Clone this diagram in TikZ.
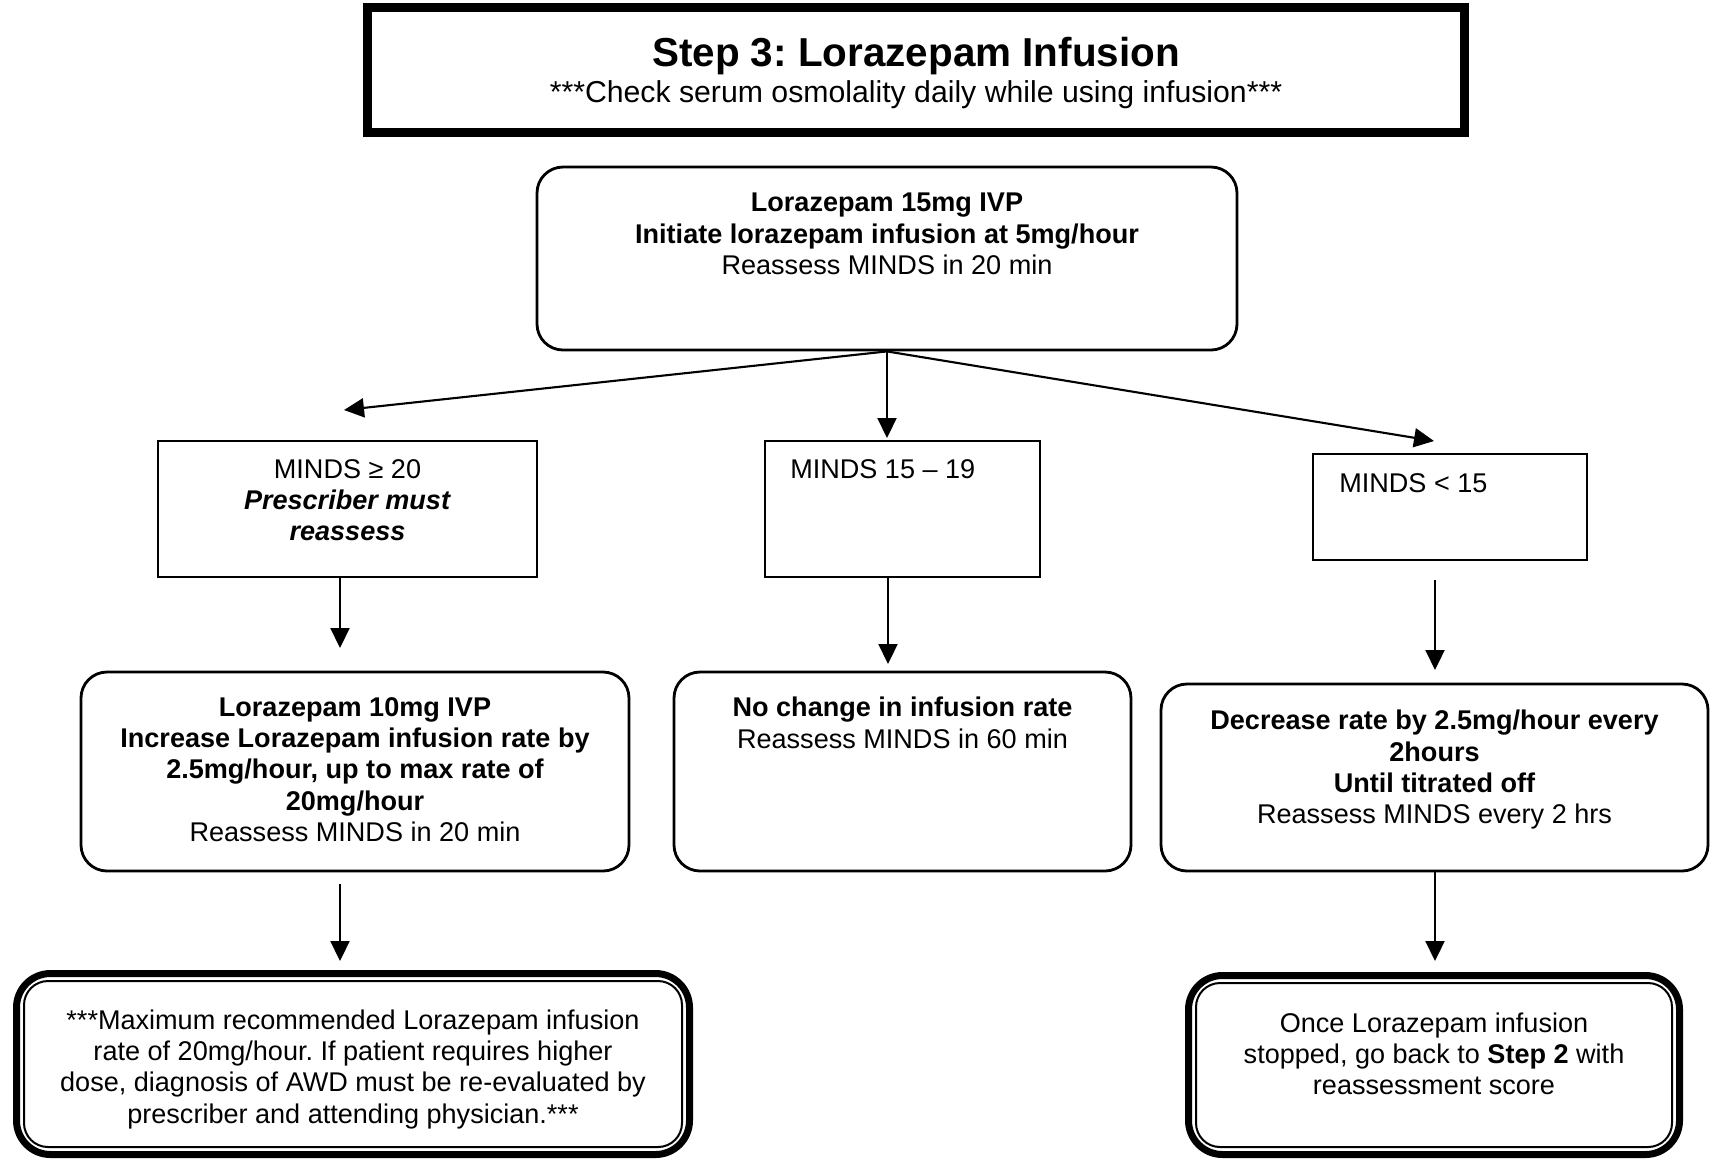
\documentclass[tikz,border=0pt]{standalone}
\usepackage{fontspec}
\setmainfont{Liberation Sans}
\usetikzlibrary{arrows.meta,calc,positioning}
\frenchspacing
\newcommand{\bodytxt}{\fontsize{7.7}{8.9}\selectfont}
\newcommand{\headtxt}{\fontsize{11.5}{13}\selectfont\bfseries}
\tikzset{fig/.style={
    draw,
    line width=0.8pt,
    inner sep=0pt},
  rfig/.style={fig,
    rounded corners=2.6mm},
  lbl/.style={
    align=center,
    anchor=north,
    inner sep=0pt,
    font=\bodytxt},
  conn/.style={->,
    line width=0.6pt},
  >={Triangle[length=2mm,width=1.9mm]}}

\begin{document}
\begin{tikzpicture}[x=0.1mm,y=-0.1mm]
\useasboundingbox (0,0) rectangle (1716,1161);

% title
\node[fig,
  line width=0.9mm,
  minimum width=109.7mm,
  minimum height=12.5mm] (title) at (916,70) {};
\node[lbl,font=\headtxt] (titletxt) at (916,36) {Step 3: Lorazepam Infusion};
\node[lbl,font=\fontsize{8.6}{10}\selectfont] (subtxt) at (916,80) {***Check serum osmolality daily while using infusion***};

% first dose
\node[rfig,
  minimum width=70mm,
  minimum height=18.3mm] (start) at (887,258.5) {};
\node[lbl] (starttxt) at ($(start.north)+(0,27)$)
  {\textbf{Lorazepam 15mg IVP}\\
   \textbf{Initiate lorazepam infusion at 5mg/hour}\\
   Reassess MINDS in 20 min};

% scores
\node[fig,
  minimum width=37.9mm,
  minimum height=13.6mm] (hi) at (347.5,509) {};
\node[lbl] (hitxt) at ($(hi.north)+(0,19)$)
  {MINDS ≥ 20\\
   \textbf{\textit{Prescriber must}}\\
   \textbf{\textit{reassess}}};

\node[fig,
  minimum width=27.5mm,
  minimum height=13.6mm] (mid) at (902.5,509) {};
\node[lbl,anchor=north west] (midtxt) at ($(mid.north west)+(26,19)$) {MINDS 15 – 19};

\node[fig,
  minimum width=27.4mm,
  minimum height=10.6mm] (lo) at (1450,507) {};
\node[lbl,anchor=north west] (lotxt) at ($(lo.north west)+(27,20)$) {MINDS < 15};

% actions
\node[rfig,
  minimum width=54.8mm,
  minimum height=19.9mm] (inc) at (355,771.5) {};
\node[lbl] (inctxt) at ($(inc.north)+(0,26)$)
  {\textbf{Lorazepam 10mg IVP}\\
   \textbf{Increase Lorazepam infusion rate by}\\
   \textbf{2.5mg/hour, up to max rate of}\\
   \textbf{20mg/hour}\\
   Reassess MINDS in 20 min};

\node[rfig,
  minimum width=45.7mm,
  minimum height=19.9mm] (same) at (902.5,771.5) {};
\node[lbl] (sametxt) at ($(same.north)+(0,26)$)
  {\textbf{No change in infusion rate}\\
   Reassess MINDS in 60 min};

\node[rfig,
  minimum width=54.7mm,
  minimum height=18.7mm] (dec) at (1434.5,777.5) {};
\node[lbl] (dectxt) at ($(dec.north)+(0,27)$)
  {\textbf{Decrease rate by 2.5mg/hour every}\\
   \textbf{2hours}\\
   \textbf{Until titrated off}\\
   Reassess MINDS every 2 hrs};

% notes
\node[fig,
  line width=0.7mm,
  rounded corners=3.4mm,
  minimum width=67.3mm,
  minimum height=18.1mm] (maxb) at (353,1064) {};
\node[fig,
  line width=0.2mm,
  rounded corners=2.4mm,
  minimum width=65.8mm,
  minimum height=16.6mm] (maxbin) at (maxb.center) {};
\node[lbl] (maxtxt) at (353,1009)
  {***Maximum recommended Lorazepam infusion\\
   rate of 20mg/hour. If patient requires higher\\
   dose, diagnosis of AWD must be re-evaluated by\\
   prescriber and attending physician.***};

\node[fig,
  line width=0.7mm,
  rounded corners=3.4mm,
  minimum width=49.1mm,
  minimum height=17.9mm] (stop) at (1434,1065) {};
\node[fig,
  line width=0.2mm,
  rounded corners=2.4mm,
  minimum width=47.6mm,
  minimum height=16.4mm] (stopin) at (stop.center) {};
\node[lbl] (stoptxt) at (1434,1012)
  {Once Lorazepam infusion\\
   stopped, go back to \textbf{Step 2} with\\
   reassessment score};

% arrow ends
\coordinate (aL) at (344,410);
\coordinate (aM) at (887,438);
\coordinate (aR) at (1434,441);
\coordinate (dL) at (340,648);
\coordinate (dM) at (888,664);
\coordinate (dR0) at (1435,580);
\coordinate (dR) at (1435,670);
\coordinate (eL0) at (340,884);
\coordinate (eL) at (340,961);
\coordinate (eR) at (1435,961);

\draw[conn] (start.south) -- (aL);
\draw[conn] (start.south) -- (aM);
\draw[conn] (start.south) -- (aR);
\draw[conn] (hi.south -| dL) -- (dL);
\draw[conn] (mid.south -| dM) -- (dM);
\draw[conn] (dR0) -- (dR);
\draw[conn] (eL0) -- (eL);
\draw[conn] (dec.south -| eR) -- (eR);

\end{tikzpicture}
\end{document}
